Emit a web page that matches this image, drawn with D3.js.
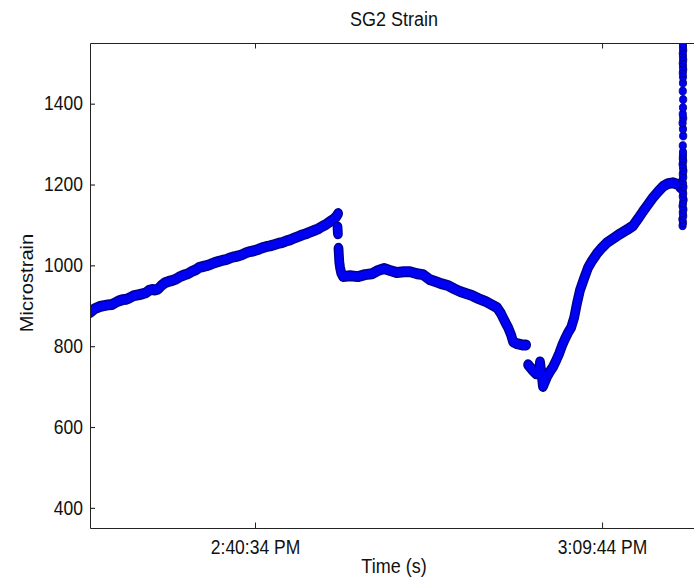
<!DOCTYPE html>
<html>
<head>
<meta charset="utf-8">
<title>SG2 Strain</title>
<style>
  html, body { margin: 0; background: #fff; overflow: hidden; }
  svg { display: block; }
  text { font-family: "Liberation Sans", Arial, Helvetica, sans-serif; fill: #111; }
</style>
<script src="https://cdn.jsdelivr.net/npm/d3@7"></script>
</head>
<body>
<svg id="chart" width="694" height="578"></svg>
<script>
// time = seconds after 2:00:00 PM, value = microstrain
var riseA = [[1602,883],[1627,893],[1652,898],[1673,900],[1693,902],[1713,903],[1728,907],[1748,912],
  [1768,915],[1786,916],[1804,920],[1824,925],[1844,927],[1864,929],[1884,932],[1900,938],[1915,940],
  [1930,939],[1945,941],[1962,950],[1980,957],[1998,960],[2015,962],[2035,966],[2056,972],[2076,976],
  [2096,979],[2116,985],[2136,989],[2154,995],[2172,997],[2190,999],[2207,1002],[2227,1006],[2247,1009],
  [2268,1012],[2288,1014],[2308,1018],[2328,1021],[2348,1023],[2368,1026],[2389,1031],[2409,1034],
  [2429,1036],[2449,1039],[2469,1043],[2489,1046],[2510,1048],[2530,1051],[2550,1054],[2570,1056],
  [2590,1060],[2611,1063],[2631,1067],[2651,1071],[2671,1075],[2691,1078],[2711,1082],[2732,1086],
  [2752,1090],[2772,1096],[2792,1101],[2812,1108],[2828,1113],[2843,1120],[2853,1128]];
var dropA = [[2850,1095],[2852,1078]];
var sag = [[2855,1042],[2857,1025],[2859,1008],[2863,994],[2868,982],[2878,972],[2913,974],[2953,972],
  [2989,977],[3024,979],[3054,987],[3085,992],[3115,987],[3150,982],[3185,984],[3216,984],[3251,979],
  [3281,977],[3317,964],[3347,959],[3377,954],[3407,950],[3438,942],[3468,935],[3498,930],[3529,925],
  [3564,917],[3599,910],[3629,902],[3655,895],[3675,880],[3695,860],[3710,846],[3725,828],[3735,811],
  [3755,806],[3781,803],[3801,803]];
var recover = [[3811,754],[3831,742],[3851,732],[3866,737],[3871,761],[3881,722],[3886,700],[3896,712],
  [3906,724],[3921,737],[3937,749],[3952,764],[3967,781],[3982,801],[3997,818],[4012,833],[4028,846],
  [4043,870],[4058,907],[4073,939],[4093,967],[4113,994],[4133,1011],[4158,1029],[4184,1044],[4209,1056],
  [4239,1066],[4275,1078],[4310,1088],[4340,1098],[4365,1115],[4390,1133],[4415,1150],[4440,1167],
  [4466,1182],[4491,1195],[4516,1202],[4541,1204],[4566,1200],[4581,1192]];
var spike = [[4590,1098],[4592,1106],[4589,1114],[4593,1122],[4591,1130],[4594,1138],[4590,1146],
  [4592,1154],[4595,1162],[4591,1170],[4593,1178],[4590,1186],[4594,1194],[4592,1202],[4589,1210],
  [4593,1218],[4591,1226],[4594,1234],[4592,1242],[4590,1250],[4593,1258],[4591,1265],[4592,1272],
  [4592,1280],[4591,1296],[4593,1320],[4592,1337],[4590,1352],[4593,1364],[4591,1374],[4592,1390],
  [4593,1410],[4591,1431],[4592,1451],[4592,1466],[4591,1476],[4593,1484],[4592,1492],[4591,1500],
  [4593,1508],[4592,1516],[4591,1524],[4593,1532],[4592,1540],[4592,1548]];

var xLimits = [1602, 4703];
var yLimits = [350, 1550];
var yTicks = [400, 600, 800, 1000, 1200, 1400];
var xTickLabels = ["2:40:34 PM", "3:09:44 PM"];

// the picture is stretched a bit in height, so draw in a squashed box and let the viewBox stretch it
var k = 1.12;
var W = 694, H = 578 / k;
var svg = d3.select("#chart")
    .attr("viewBox", `0 0 ${W} ${H}`)
    .attr("preserveAspectRatio", "none");

// the right edge of the axes box falls just outside the window
var plotLeft = 90, plotRight = 705, plotTop = 43 / k, plotBottom = 528 / k;

var parseClock = d3.timeParse("%I:%M:%S %p");
var base = parseClock("2:00:00 PM");
var at = s => d3.timeSecond.offset(base, s);

var x = d3.scaleTime().domain(xLimits.map(at)).range([plotLeft, plotRight]);
var y = d3.scaleLinear().domain(yLimits).range([plotBottom, plotTop]);

svg.append("clipPath").attr("id", "plot")
  .append("rect").attr("x", plotLeft).attr("y", plotTop)
  .attr("width", plotRight - plotLeft).attr("height", plotBottom - plotTop);

var line = d3.line().x(d => x(at(d[0]))).y(d => y(d[1]));
var marks = svg.append("g").attr("clip-path", "url(#plot)");

[riseA, dropA, sag, recover].forEach(function(seg) {
  marks.append("path").datum(seg).attr("d", line)
    .attr("fill", "none").attr("stroke", "#00008c").attr("stroke-width", 9.8)
    .attr("stroke-linecap", "round").attr("stroke-linejoin", "round");
  marks.append("path").datum(seg).attr("d", line)
    .attr("fill", "none").attr("stroke", "#0000f2").attr("stroke-width", 7.2)
    .attr("stroke-linecap", "round").attr("stroke-linejoin", "round");
});

marks.selectAll("circle.spike").data(spike).enter().append("circle")
  .attr("class", "spike")
  .attr("cx", d => x(at(d[0])))
  .attr("cy", d => y(d[1]))
  .attr("r", 3.6)
  .attr("fill", "#0000f2").attr("stroke", "#00007a").attr("stroke-width", 0.8);

// axes, MATLAB style: ticks point inward
var xTicks = xTickLabels.map(parseClock);
var fmt = d3.timeFormat("%-I:%M:%S %p");

svg.append("g").attr("transform", `translate(0,${plotBottom})`)
  .call(d3.axisBottom(x).tickValues(xTicks).tickFormat(fmt).tickSizeInner(-5).tickSizeOuter(0).tickPadding(11));
svg.append("g").attr("transform", `translate(0,${plotTop})`)
  .call(d3.axisTop(x).tickValues(xTicks).tickFormat("").tickSizeInner(-5).tickSizeOuter(0));
svg.append("g").attr("transform", `translate(${plotLeft},0)`)
  .call(d3.axisLeft(y).tickValues(yTicks).tickFormat(d3.format("d")).tickSizeInner(-5).tickSizeOuter(0).tickPadding(7));

svg.selectAll(".domain, .tick line").attr("stroke", "#222");
svg.selectAll(".tick text").attr("font-size", 17.5).attr("fill", "#111")
  .style("font-family", '"Liberation Sans", Arial, sans-serif');

var centerX = 394;
svg.append("text").attr("x", centerX).attr("y", 26 / k)
  .attr("text-anchor", "middle").attr("font-size", 18).text("SG2 Strain");
svg.append("text").attr("x", centerX).attr("y", 573 / k)
  .attr("text-anchor", "middle").attr("font-size", 18).text("Time (s)");
svg.append("text").attr("transform", `translate(33,${283 / k}) rotate(-90)`)
  .attr("text-anchor", "middle").attr("font-size", 18).text("Microstrain");
</script>
</body>
</html>
